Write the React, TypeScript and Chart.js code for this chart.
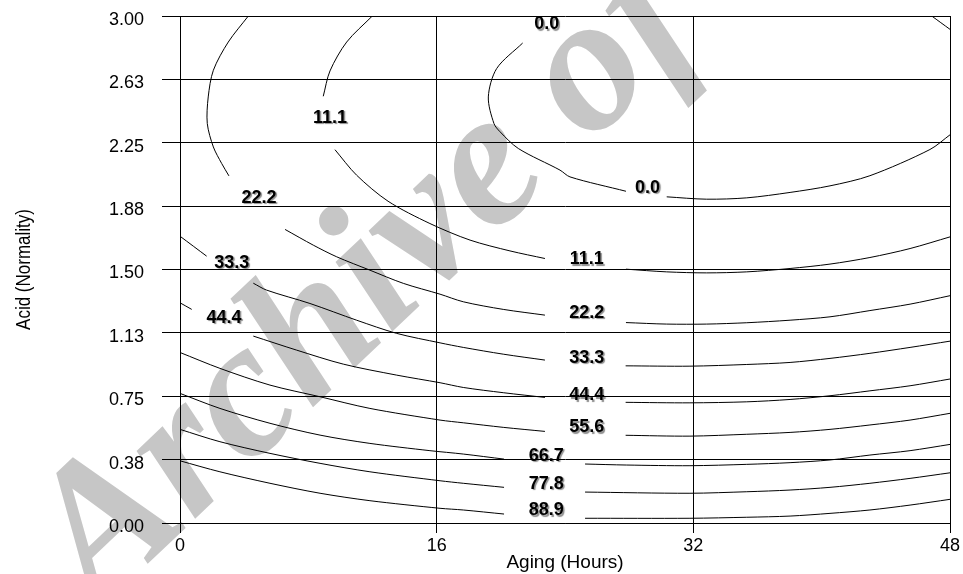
import React, { useEffect, useRef } from "react";
import { Chart, registerables } from "chart.js";

Chart.register(...registerables);

// Axis ticks
const xTicks = [0, 16, 32, 48];
const yTicks = [0, 0.375, 0.75, 1.125, 1.5, 1.875, 2.25, 2.625, 3];

type P = [number, number];

// Contour 0.0
const c00a: P[] = [[21.36, 2.84], [19.74, 2.689], [19.22, 2.521], [19.57, 2.364], [19.95, 2.315], [21.09, 2.216], [23.69, 2.088], [24.31, 2.048], [27.8, 1.963]];
const c00b: P[] = [[30.34, 1.93], [32.83, 1.916], [35.33, 1.924], [38.03, 1.956], [40.52, 1.995], [43.01, 2.055], [46.75, 2.21], [48, 2.297]];
const c00c: P[] = [[46.86, 3.0], [48, 2.921]];
// Contour 11.1
const c11a: P[] = [[11.99, 3.0], [10.39, 2.846], [9.35, 2.675], [8.93, 2.525]];
const c11b: P[] = [[9.66, 2.209], [11.01, 2.058], [12.97, 1.904], [15.58, 1.772], [18.08, 1.674], [20.57, 1.61], [22.75, 1.565]];
const c11c: P[] = [[27.8, 1.502], [30.34, 1.486], [32.83, 1.48], [35.33, 1.486], [38.03, 1.506], [40.52, 1.532], [43.01, 1.571], [45.51, 1.624], [48, 1.693]];
// Contour 22.2
const c22a: P[] = [[4.26, 3.0], [3.01, 2.846], [2.08, 2.679], [1.76, 2.521], [1.7, 2.364], [2.08, 2.225], [2.6, 2.127], [3.05, 2.054]];
const c22b: P[] = [[6.55, 1.737], [8.31, 1.644], [9.77, 1.575], [11.84, 1.496], [13.92, 1.418], [16.21, 1.354], [17.66, 1.309], [20.15, 1.264], [22.75, 1.23]];
const c22c: P[] = [[27.8, 1.186], [30.34, 1.177], [32.83, 1.177], [35.33, 1.185], [38.03, 1.2], [40.52, 1.22], [43.01, 1.257], [45.51, 1.295], [48, 1.345]];
// Contour 33.3
const c33a: P[] = [[0, 1.697], [1.66, 1.579]];
const c33b: P[] = [[4.57, 1.419], [5.4, 1.378], [8.1, 1.299], [11.01, 1.2], [13.51, 1.122], [16.21, 1.066], [17.66, 1.039], [20.15, 0.999], [22.75, 0.964]];
const c33c: P[] = [[27.78, 0.93], [31.79, 0.928], [35.33, 0.938], [38.03, 0.95], [40.52, 0.974], [43.01, 1.004], [45.51, 1.039], [48, 1.076]];
// Contour 44.4
const c44a: P[] = [[0, 1.303], [0.73, 1.264]];
const c44b: P[] = [[4.57, 1.106], [7.27, 1.023], [10.18, 0.94], [13.51, 0.875], [16.21, 0.83], [17.66, 0.802], [20.15, 0.771], [22.75, 0.743]];
const c44c: P[] = [[27.78, 0.714], [31.79, 0.711], [35.33, 0.717], [38.03, 0.731], [40.52, 0.753], [43.01, 0.782], [45.51, 0.812], [48, 0.852]];
// Contour 55.6
const c56a: P[] = [[0, 1.009], [2.49, 0.915], [5.61, 0.816], [8.73, 0.747], [11.84, 0.678], [16.21, 0.609], [17.66, 0.593], [20.15, 0.566], [22.75, 0.542]];
const c56b: P[] = [[27.78, 0.519], [31.79, 0.514], [35.33, 0.525], [38.03, 0.536], [40.52, 0.554], [43.01, 0.58], [45.51, 0.609], [48, 0.649]];
// Contour 66.7
const c67a: P[] = [[0, 0.767], [2.49, 0.678], [5.61, 0.59], [8.73, 0.52], [11.84, 0.471], [15.58, 0.428], [17.66, 0.408], [20.2, 0.378]];
const c67b: P[] = [[25.25, 0.349], [27.85, 0.343], [31.79, 0.339], [35.33, 0.347], [38.03, 0.357], [40.52, 0.373], [43.01, 0.402], [45.51, 0.428], [48, 0.465]];
// Contour 77.8
const c78a: P[] = [[0, 0.554], [2.49, 0.481], [5.61, 0.412], [8.73, 0.353], [11.84, 0.303], [16.21, 0.25], [17.66, 0.235], [20.2, 0.211]];
const c78b: P[] = [[25.25, 0.183], [31.79, 0.176], [35.33, 0.185], [38.03, 0.195], [40.52, 0.211], [43.01, 0.235], [45.51, 0.264], [48, 0.297]];
// Contour 88.9
const c89a: P[] = [[0, 0.368], [2.49, 0.303], [5.61, 0.235], [8.73, 0.176], [11.84, 0.132], [16.21, 0.087], [17.66, 0.077], [20.2, 0.053]];
const c89b: P[] = [[25.25, 0.028], [31.79, 0.028], [35.33, 0.034], [38.03, 0.041], [40.52, 0.057], [43.01, 0.077], [45.51, 0.106], [48, 0.14]];

const segments: P[][] = [
  c00a, c00b, c00c,
  c11a, c11b, c11c,
  c22a, c22b, c22c,
  c33a, c33b, c33c,
  c44a, c44b, c44c,
  c56a, c56b,
  c67a, c67b,
  c78a, c78b,
  c89a, c89b,
];

// Contour labels
const labelText = ["0.0", "0.0", "11.1", "11.1", "22.2", "22.2", "33.3", "33.3", "44.4", "44.4", "55.6", "66.7", "77.8", "88.9"];
const labelX = [22.86, 29.14, 9.35, 25.35, 4.92, 25.35, 3.22, 25.35, 2.74, 25.35, 25.35, 22.83, 22.83, 22.83];
const labelY = [2.951, 1.984, 2.398, 1.561, 1.925, 1.245, 1.54, 0.979, 1.215, 0.757, 0.565, 0.399, 0.231, 0.074];

const xTitle = "Aging (Hours)";
const yTitle = "Acid (Normality)";
const watermark = "Archive of SID";

const SANS = "'Liberation Sans', Arial, sans-serif";

export default function App() {
  const ref = useRef<HTMLCanvasElement | null>(null);

  useEffect(() => {
    if (!ref.current) return;

    const watermarkPlugin = {
      id: "watermark",
      beforeDraw(chart: any) {
        const ctx = chart.ctx;
        ctx.save();
        ctx.fillStyle = "#c6c6c6";
        ctx.font = "italic bold 195px 'Liberation Serif', 'Times New Roman', serif";
        ctx.textBaseline = "alphabetic";
        ctx.translate(98, 611);
        ctx.rotate((-43.5 * Math.PI) / 180);
        ctx.fillText(watermark, 0, 0);
        ctx.restore();
      },
    };

    const yTitlePlugin = {
      id: "yTitle",
      afterDraw(chart: any) {
        const ctx = chart.ctx;
        const ys = chart.scales.y;
        ctx.save();
        ctx.translate(24, (ys.top + ys.bottom) / 2);
        ctx.rotate(-Math.PI / 2);
        ctx.scale(0.85, 1);
        ctx.font = `20px ${SANS}`;
        ctx.fillStyle = "#000";
        ctx.textAlign = "center";
        ctx.textBaseline = "middle";
        ctx.fillText(yTitle, 0, 0);
        ctx.restore();
      },
    };

    const labelPlugin = {
      id: "contourLabels",
      afterDatasetsDraw(chart: any) {
        const ctx = chart.ctx;
        const xs = chart.scales.x;
        const ys = chart.scales.y;
        ctx.save();
        ctx.font = `bold 18px ${SANS}`;
        ctx.textAlign = "center";
        ctx.textBaseline = "middle";
        ctx.fillStyle = "#000";
        ctx.shadowColor = "rgba(0,0,0,0.45)";
        ctx.shadowOffsetX = 1.5;
        ctx.shadowOffsetY = 1.5;
        ctx.shadowBlur = 1;
        for (let i = 0; i < labelText.length; i++) {
          ctx.fillText(labelText[i], xs.getPixelForValue(labelX[i]), ys.getPixelForValue(labelY[i]));
        }
        ctx.restore();
      },
    };

    const chart = new Chart(ref.current, {
      type: "scatter",
      data: {
        datasets: segments.map((seg) => ({
          data: seg.map(([x, y]) => ({ x, y })),
          showLine: true,
          borderColor: "#000",
          borderWidth: 1,
          pointRadius: 0,
          pointHoverRadius: 0,
          tension: 0.3,
          fill: false,
        })),
      },
      options: {
        animation: false,
        responsive: true,
        maintainAspectRatio: false,
        events: [],
        layout: { padding: { top: 16, right: 13, left: 0, bottom: 0 } },
        plugins: {
          legend: { display: false },
          tooltip: { enabled: false },
          title: { display: false },
        },
        scales: {
          x: {
            type: "linear",
            min: 0,
            max: 48,
            afterBuildTicks: (s: any) => {
              s.ticks = xTicks.map((v) => ({ value: v }));
            },
            afterFit: (s: any) => {
              s.height = 51;
              s.paddingLeft = 0;
              s.paddingRight = 0;
            },
            ticks: {
              color: "#000",
              font: { size: 18, family: SANS },
              padding: 2,
              maxRotation: 0,
              autoSkip: false,
            },
            grid: { color: "#000", lineWidth: 1, tickLength: 10, drawTicks: true },
            border: { display: true, color: "#000", width: 1 },
            title: {
              display: true,
              text: xTitle,
              color: "#000",
              font: { size: 19, family: SANS },
              padding: { top: 0, bottom: 0 },
            },
          },
          y: {
            type: "linear",
            min: 0,
            max: 3,
            afterBuildTicks: (s: any) => {
              s.ticks = yTicks.map((v) => ({ value: v }));
            },
            afterFit: (s: any) => {
              s.width = 180;
              s.paddingTop = 0;
              s.paddingBottom = 0;
            },
            ticks: {
              color: "#000",
              font: { size: 18, family: SANS },
              padding: 18,
              labelOffset: 4,
              autoSkip: false,
              callback: (v: any) => Number(v).toFixed(2),
            },
            grid: { color: "#000", lineWidth: 1, tickLength: 18, drawTicks: true },
            border: { display: true, color: "#000", width: 1 },
            title: { display: false },
          },
        },
      },
      plugins: [watermarkPlugin, labelPlugin, yTitlePlugin],
    } as any);

    return () => chart.destroy();
  }, []);

  return (
    <div style={{ position: "fixed", left: 0, top: 0, width: 963, height: 574, background: "#fff" }}>
      <canvas ref={ref} />
    </div>
  );
}
